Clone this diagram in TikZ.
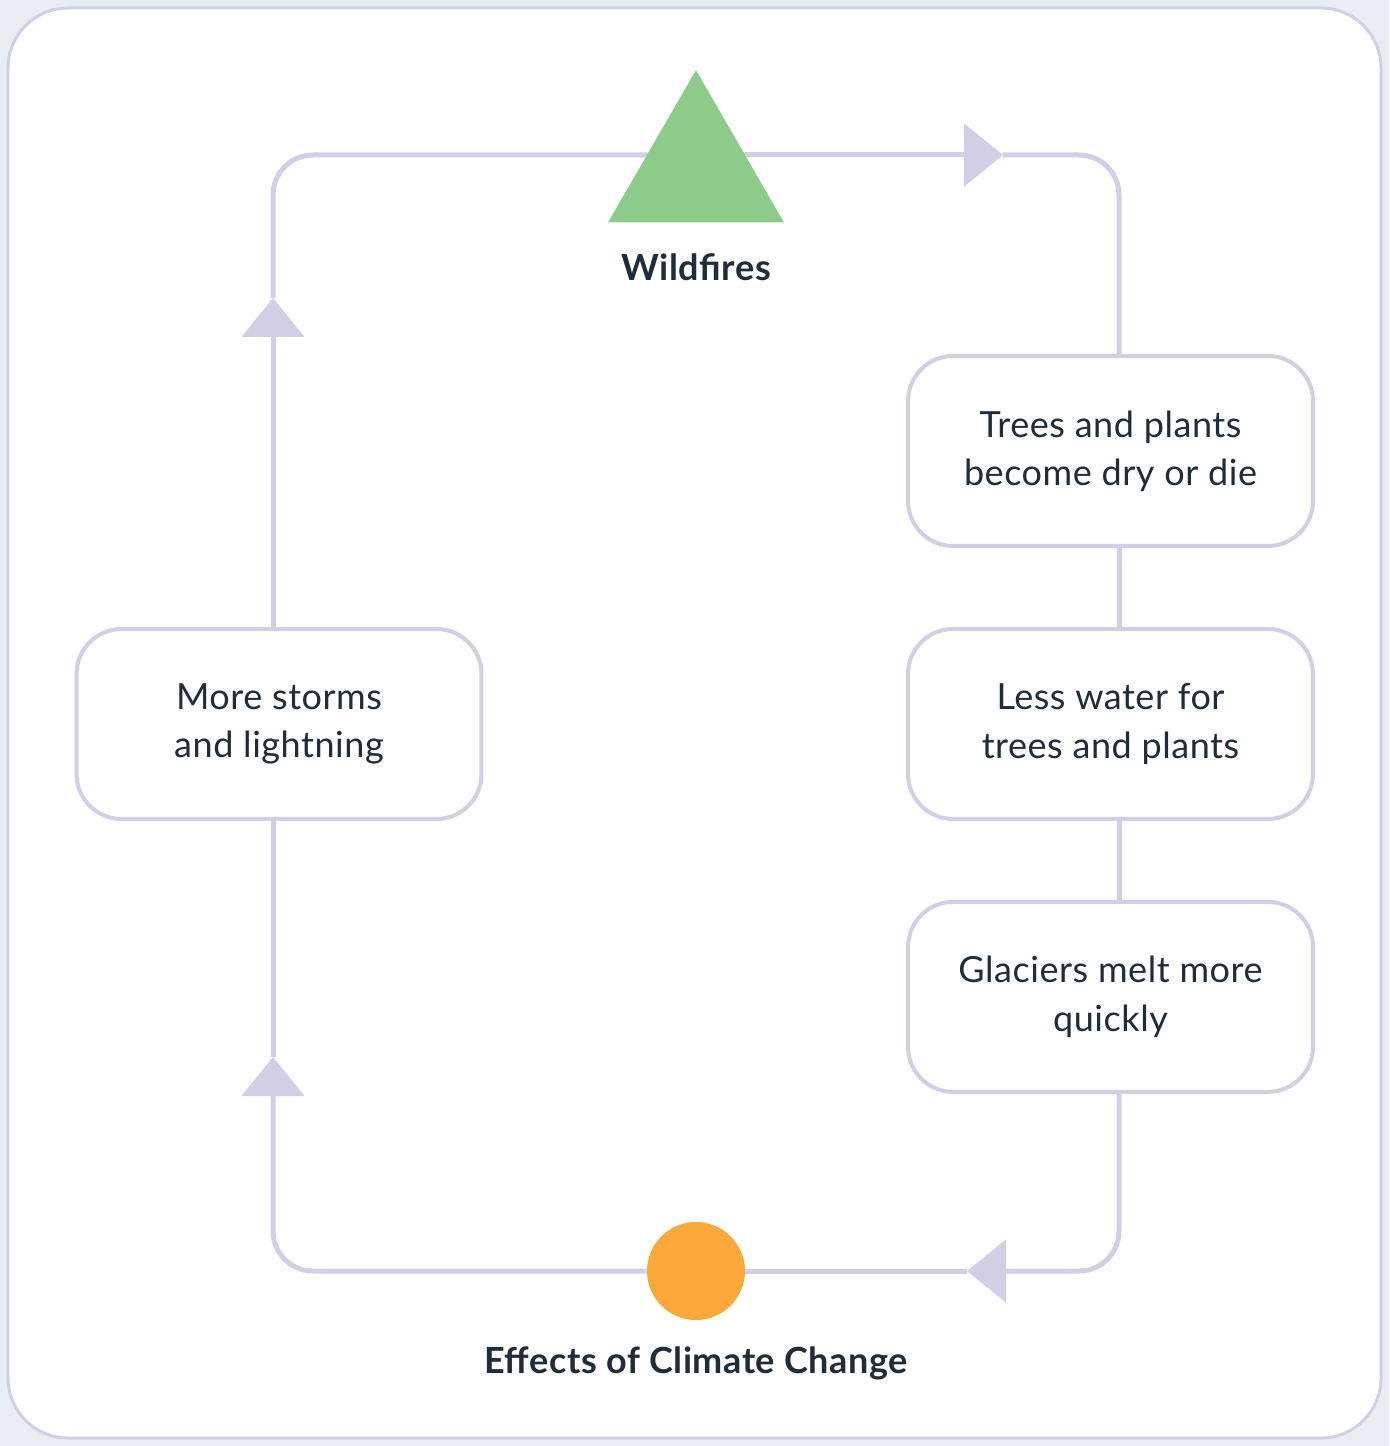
\documentclass[tikz,border=0pt]{standalone}
\usepackage{fontspec}
\setmainfont{Lato}
\usetikzlibrary{positioning,arrows.meta,shapes.geometric,backgrounds}
\definecolor{pageGray}{RGB}{234,236,244}
\definecolor{loopLilac}{RGB}{210,206,230}
\definecolor{fireGreen}{RGB}{141,203,138}
\definecolor{sunOrange}{RGB}{248,169,58}
\definecolor{inkDark}{RGB}{31,45,58}
\newcommand\cardfont{\addfontfeatures{LetterSpace=1.5}\fontsize{20.5}{27.5}\selectfont}
\newcommand\headfont{\addfontfeatures{LetterSpace=1.5}\fontsize{20.5}{27.5}\selectfont\bfseries}

\begin{document}
\begin{tikzpicture}[x=0.02cm,y=-0.02cm,
  stepbox/.style={draw=loopLilac,line width=0.08cm,rounded corners=0.9cm,fill=white,
    minimum width=8.1cm,minimum height=3.8cm,align=center,text=inkDark,font=\cardfont},
  title/.style={text=inkDark,font=\headfont,inner sep=0pt},
  loopline/.style={draw=loopLilac,line width=0.1cm,rounded corners=0.8cm},
  looptip/.style={-{Triangle[length=0.78cm,width=1.24cm]}}]
\useasboundingbox (0,0) rectangle (1389,1446);

% Markers
\node[regular polygon,regular polygon sides=3,minimum size=4.06cm,inner sep=0pt,fill=fireGreen] (fire) at (696,171.6) {};
\node[title] (firelabel) at (696,267) {Wildfires};
\node[circle,minimum size=1.96cm,inner sep=0pt,fill=sunOrange] (sun) at (696,1271) {};
\node[title] (sunlabel) at (696,1363) {Effects of Climate Change};

% Steps
\node[stepbox] (trees) at (1110.5,451) {Trees and plants\\become dry or die};
\node[stepbox,below=1.58cm of trees] (water) {Less water for\\trees and plants};
\node[stepbox,below=1.58cm of water] (glacier) {Glaciers melt more\\quickly};
\node[stepbox] (storms) at (279,724) {More storms\\and lightning};

% Corners and arrow tips
\coordinate (tl) at (273,155);
\coordinate (tr) at (1119,155);
\coordinate (bl) at (273,1271);
\coordinate (br) at (1119,1271);
\coordinate (tipR) at (1003,155);
\coordinate (tipL) at (967,1271);
\coordinate (tipUpA) at (273,1057);
\coordinate (tipUpB) at (273,298);

\begin{pgfonlayer}{background}
\fill[pageGray] (0,0) rectangle (1389,1446);
\draw[draw=loopLilac,line width=0.06cm,rounded corners=1.2cm,fill=white] (8,8) rectangle (1381,1438);

% Connections
\draw[loopline,looptip] (sun) -- (bl) -- (tipUpA);
\draw[loopline] (tipUpA) -- (storms.south -| bl);
\draw[loopline,looptip] (storms.north -| tl) -- (tipUpB);
\draw[loopline] (tipUpB) -- (tl) -- (fire.center |- tl);
\draw[loopline,looptip] (fire.center |- tl) -- (tipR);
\draw[loopline] (tipR) -- (tr) -- (trees.north -| tr);
\draw[loopline] (trees.south -| tr) -- (water.north -| tr);
\draw[loopline] (water.south -| tr) -- (glacier.north -| tr);
\draw[loopline,looptip] (glacier.south -| br) -- (br) -- (tipL);
\draw[loopline] (tipL) -- (sun);
\end{pgfonlayer}
\end{tikzpicture}
\end{document}
